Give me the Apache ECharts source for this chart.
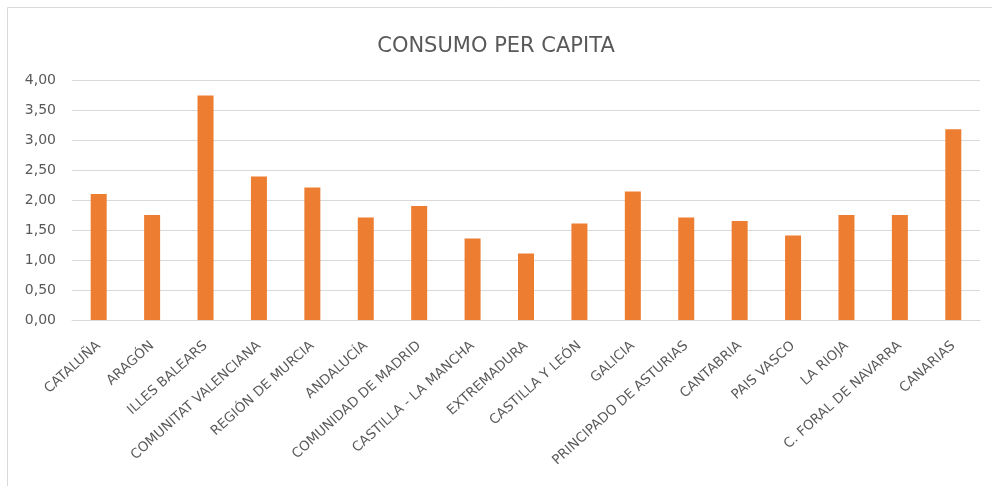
<!DOCTYPE html>
<html>
<head>
<meta charset="utf-8">
<script src="https://cdn.jsdelivr.net/npm/echarts@6/dist/echarts.min.js"></script>
<style>
  html, body { margin: 0; padding: 0; background: #fff; }
  #chart { width: 992px; height: 486px; }
</style>
</head>
<body>
<div id="chart"></div>
<script>
// Comunidades autónomas
const regions = [
  'CATALUÑA', 'ARAGÓN', 'ILLES BALEARS', 'COMUNITAT VALENCIANA', 'REGIÓN DE MURCIA',
  'ANDALUCÍA', 'COMUNIDAD DE MADRID', 'CASTILLA - LA MANCHA', 'EXTREMADURA',
  'CASTILLA Y LEÓN', 'GALICIA', 'PRINCIPADO DE ASTURIAS', 'CANTABRIA', 'PAIS VASCO',
  'LA RIOJA', 'C. FORAL DE NAVARRA', 'CANARIAS'
];
// Consumo per cápita
const consumo = [
  2.10, 1.75, 3.74, 2.39, 2.21, 1.71, 1.90, 1.36, 1.11,
  1.61, 2.14, 1.71, 1.65, 1.41, 1.75, 1.75, 3.18
];
const yTicks = { min: 0, max: 4, step: 0.5 };

const textColor = '#595959';
const font = 'DejaVu Sans';

const chart = echarts.init(document.getElementById('chart'), null, { renderer: 'canvas' });
chart.setOption({
  backgroundColor: '#ffffff',
  animation: false,
  graphic: [{
    type: 'rect',
    shape: { x: 7.5, y: 7.5, width: 1000, height: 500 },
    style: { fill: 'none', stroke: '#d9d9d9', lineWidth: 1 },
    silent: true
  }],
  title: {
    text: 'CONSUMO PER CAPITA',
    left: 'center',
    top: 31,
    textStyle: { color: textColor, fontFamily: font, fontSize: 21, fontWeight: 'normal' }
  },
  grid: { left: 72, right: 12, top: 80, bottom: 166, containLabel: false },
  xAxis: {
    type: 'category',
    data: regions,
    axisLine: { lineStyle: { color: '#d9d9d9' } },
    axisTick: { show: false },
    axisLabel: {
      interval: 0,
      rotate: 42,
      margin: 24,
      color: textColor,
      fontFamily: font,
      fontSize: 13.5
    }
  },
  yAxis: {
    type: 'value',
    min: yTicks.min,
    max: yTicks.max,
    interval: yTicks.step,
    axisLine: { show: false },
    axisTick: { show: false },
    splitLine: { lineStyle: { color: '#d9d9d9' } },
    axisLabel: {
      margin: 16,
      color: textColor,
      fontFamily: font,
      fontSize: 14,
      formatter: v => v.toFixed(2).replace('.', ',')
    }
  },
  series: [{
    type: 'bar',
    data: consumo,
    barWidth: 16,
    itemStyle: { color: '#ED7D31' }
  }]
});
</script>
</body>
</html>
